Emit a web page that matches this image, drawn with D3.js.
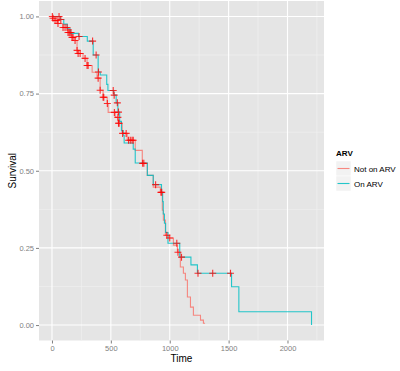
<!DOCTYPE html>
<html>
<head>
<meta charset="utf-8">
<script src="https://cdnjs.cloudflare.com/ajax/libs/d3/7.8.5/d3.min.js"></script>
<style>
  body { margin: 0; background: #fff; }
  text { font-family: "Liberation Sans", Arial, sans-serif; }
</style>
</head>
<body>
<div id="chart"></div>
<script>
// Kaplan-Meier steps: [time, survival]
const notOnArv = [[0,1.0],[9,0.994],[26,0.987],[51,0.977],[94,0.964],[136,0.948],[170,0.932],[196,0.922],[213,0.89],[222,0.88],[264,0.864],[298,0.841],[341,0.819],[383,0.8],[409,0.761],[434,0.738],[469,0.718],[477,0.689],[537,0.673],[562,0.654],[596,0.621],[639,0.599],[707,0.566],[767,0.524],[809,0.485],[860,0.447],[920,0.43],[937,0.372],[946,0.34],[963,0.291],[988,0.282],[1031,0.259],[1065,0.236],[1090,0.188],[1116,0.168],[1133,0.146],[1150,0.091],[1176,0.058],[1201,0.032],[1261,0.016],[1286,0.006],[1300,0.006]];
const onArv = [[0,1.0],[70,0.99],[100,0.975],[130,0.96],[155,0.945],[225,0.935],[300,0.92],[350,0.875],[392,0.82],[410,0.81],[465,0.78],[475,0.76],[525,0.745],[545,0.72],[560,0.69],[575,0.66],[590,0.63],[605,0.615],[613,0.59],[690,0.57],[707,0.525],[810,0.485],[860,0.455],[930,0.43],[940,0.40],[945,0.36],[955,0.33],[965,0.30],[985,0.265],[1085,0.22],[1180,0.195],[1235,0.168],[1525,0.124],[1587,0.043],[2204,0.0]];

// censored times per group
const notOnArvCensor = [3,9,26,43,51,94,111,128,136,145,153,162,170,179,196,213,222,239,281,298,307,392,409,434,440,470,530,560,565,570,600,630,650,665,680,690,770,780,925,975,1000,1070];
const onArvCensor = [60,75,230,345,375,395,520,528,555,565,880,932,1060,1100,1240,1365,1516];

const xTicks = [0, 500, 1000, 1500, 2000];
const yTicks = [0, 0.25, 0.5, 0.75, 1];
const groups = ["Not on ARV", "On ARV"];
const colors = { "Not on ARV": "#F8766D", "On ARV": "#00BFC4" };

const W = 400, H = 371;
const panel = { left: 39, right: 324, top: 1, bottom: 340.5 };

const svg = d3.select("#chart").append("svg")
  .attr("width", W)
  .attr("height", H);

const x = d3.scaleLinear().domain([-110.2, 2310]).range([panel.left, panel.right]);
const y = d3.scaleLinear().domain([-0.05, 1.05]).range([panel.bottom, panel.top]);

svg.append("rect")
  .attr("x", panel.left).attr("y", panel.top)
  .attr("width", panel.right - panel.left)
  .attr("height", panel.bottom - panel.top)
  .attr("fill", "#E5E5E5");

// minor grid
const xMinor = [250, 750, 1250, 1750, 2250];
const yMinor = [0.125, 0.375, 0.625, 0.875];
svg.append("g").selectAll("line").data(xMinor).enter().append("line")
  .attr("x1", d => x(d)).attr("x2", d => x(d))
  .attr("y1", panel.top).attr("y2", panel.bottom)
  .attr("stroke", "#F2F2F2").attr("stroke-width", 0.6);
svg.append("g").selectAll("line").data(yMinor).enter().append("line")
  .attr("x1", panel.left).attr("x2", panel.right)
  .attr("y1", d => y(d)).attr("y2", d => y(d))
  .attr("stroke", "#F2F2F2").attr("stroke-width", 0.6);

// major grid
svg.append("g").selectAll("line").data(xTicks).enter().append("line")
  .attr("x1", d => x(d)).attr("x2", d => x(d))
  .attr("y1", panel.top).attr("y2", panel.bottom)
  .attr("stroke", "#fff").attr("stroke-width", 1.1);
svg.append("g").selectAll("line").data(yTicks).enter().append("line")
  .attr("x1", panel.left).attr("x2", panel.right)
  .attr("y1", d => y(d)).attr("y2", d => y(d))
  .attr("stroke", "#fff").attr("stroke-width", 1.1);

// Axes
const xAxis = svg.append("g")
  .attr("transform", `translate(0,${panel.bottom})`)
  .call(d3.axisBottom(x).tickValues(xTicks).tickSize(3).tickPadding(2).tickFormat(d3.format("d")));
const yAxis = svg.append("g")
  .attr("transform", `translate(${panel.left},0)`)
  .call(d3.axisLeft(y).tickValues(yTicks).tickSize(3).tickPadding(2).tickFormat(d3.format(".2f")));
[xAxis, yAxis].forEach(a => {
  a.select(".domain").remove();
  a.selectAll(".tick line").attr("stroke", "#7F7F7F");
  a.selectAll(".tick text").attr("fill", "#7F7F7F").style("font-size", "7.5px");
});

// step curves
const line = d3.line()
  .x(d => x(d[0]))
  .y(d => y(d[1]))
  .curve(d3.curveStepAfter);

const series = [
  { key: "Not on ARV", steps: notOnArv, censor: notOnArvCensor },
  { key: "On ARV", steps: onArv, censor: onArvCensor }
];

series.forEach(s => {
  svg.append("path")
    .datum(s.steps)
    .attr("fill", "none")
    .attr("stroke", colors[s.key])
    .attr("stroke-width", 1.1)
    .attr("opacity", 0.85)
    .attr("d", line);
});

// survival value at time t
function survAt(steps, t) {
  let v = steps[0][1];
  for (const p of steps) { if (p[0] <= t) v = p[1]; }
  return v;
}

series.forEach(s => {
  svg.append("g").selectAll("path")
    .data(s.censor)
    .enter()
    .append("path")
    .attr("transform", d => `translate(${x(d)},${y(survAt(s.steps, d))})`)
    .attr("d", "M-3.5,0H3.5M0,-3.5V3.5")
    .attr("stroke", "#FF0000")
    .attr("stroke-width", 1.1)
    .attr("opacity", 0.8);
});

// axis titles
svg.append("text")
  .attr("x", (panel.left + panel.right) / 2)
  .attr("y", 362)
  .attr("text-anchor", "middle")
  .style("font-size", "10px")
  .text("Time");

svg.append("text")
  .attr("transform", "rotate(-90)")
  .attr("x", -(panel.top + panel.bottom) / 2)
  .attr("y", 16)
  .attr("text-anchor", "middle")
  .style("font-size", "10px")
  .text("Survival");

// Legend
const legend = svg.append("g").attr("transform", "translate(336,147)");
legend.append("text")
  .attr("x", 0).attr("y", 9)
  .style("font-size", "8px")
  .style("font-weight", "bold")
  .text("ARV");

const item = legend.selectAll(".item")
  .data(groups)
  .enter()
  .append("g")
  .attr("transform", (d, i) => `translate(0,${14 + i * 15})`);

item.append("rect")
  .attr("width", 15).attr("height", 15)
  .attr("fill", "#F2F2F2")
  .attr("stroke", "#fff").attr("stroke-width", 0.5);

item.append("line")
  .attr("x1", 1.5).attr("x2", 13.5)
  .attr("y1", 7.5).attr("y2", 7.5)
  .attr("stroke", d => colors[d])
  .attr("stroke-width", 1.1)
  .attr("opacity", 0.85);

item.append("text")
  .attr("x", 18).attr("y", 10.5)
  .style("font-size", "8px")
  .text(d => d);
</script>
</body>
</html>
